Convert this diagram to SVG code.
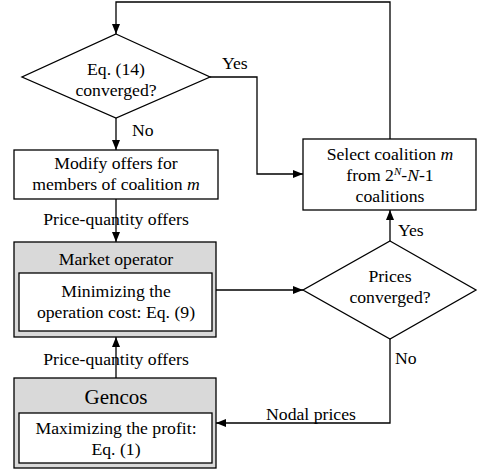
<svg xmlns="http://www.w3.org/2000/svg" width="479" height="471" viewBox="0 0 479 471">
<defs>
<marker id="ah" markerWidth="10" markerHeight="8" refX="10" refY="4" orient="auto" markerUnits="userSpaceOnUse">
<path d="M0,0 L10,4 L0,8 Z" fill="#000"/>
</marker>
<style>
text{font-family:"Liberation Serif","DejaVu Serif",serif;font-size:17.7px;fill:#000;text-anchor:middle}
.ln{fill:none;stroke:#000;stroke-width:1.3}
.box{fill:#fff;stroke:#000;stroke-width:1.3}
.gray{fill:#d9d9d9;stroke:#000;stroke-width:1.3}
.big{font-size:21px}
.lbl{text-anchor:start}
</style>
</defs>
<rect width="479" height="471" fill="#fff"/>
<g id="connectors">
<path class="ln" d="M390,139 V2 H116 V34" marker-end="url(#ah)"/>
<path class="ln" d="M210,77 H257 V174 H303" marker-end="url(#ah)"/>
<path class="ln" d="M116,118 V150" marker-end="url(#ah)"/>
<path class="ln" d="M116,199 V242" marker-end="url(#ah)"/>
<path class="ln" d="M216,290 H303" marker-end="url(#ah)"/>
<path class="ln" d="M390,241 V210" marker-end="url(#ah)"/>
<path class="ln" d="M390,339 V423 H216" marker-end="url(#ah)"/>
<path class="ln" d="M116,378 V337" marker-end="url(#ah)"/>
<text class="lbl" x="222" y="69">Yes</text>
<text class="lbl" x="132" y="136">No</text>
<text x="116" y="225">Price-quantity offers</text>
<text class="lbl" x="398" y="236">Yes</text>
<text class="lbl" x="395" y="364">No</text>
<text x="311" y="420">Nodal prices</text>
<text x="116" y="365">Price-quantity offers</text>
</g>
<g id="eq14">
<polygon class="box" points="116,34 210,77 116,118 22,77"/>
<text x="116" y="75">Eq. (14)</text>
<text x="116" y="96">converged?</text>
</g>
<g id="modify">
<rect class="box" x="14" y="150" width="204" height="49"/>
<text x="116" y="169">Modify offers for</text>
<text x="116" y="190">members of coalition <tspan font-style="italic">m</tspan></text>
</g>
<g id="select">
<rect class="box" x="303" y="139" width="173" height="71"/>
<text x="390" y="160">Select coalition <tspan font-style="italic">m</tspan></text>
<text x="390" y="181">from 2<tspan font-size="11" dy="-6" font-style="italic">N</tspan><tspan dy="6">-</tspan><tspan font-style="italic">N</tspan>-1</text>
<text x="390" y="202">coalitions</text>
</g>
<g id="market">
<rect class="gray" x="14" y="242" width="202" height="95"/>
<text x="116" y="265">Market operator</text>
<rect class="box" x="19" y="273" width="193" height="58"/>
<text x="116" y="297">Minimizing the</text>
<text x="116" y="318">operation cost: Eq. (9)</text>
</g>
<g id="prices">
<polygon class="box" points="390,241 476,290 390,339 303,290"/>
<text x="390" y="282">Prices</text>
<text x="390" y="303">converged?</text>
</g>
<g id="gencos">
<rect class="gray" x="14" y="378" width="202" height="90"/>
<text class="big" x="116" y="404">Gencos</text>
<rect class="box" x="19" y="413" width="193" height="50"/>
<text x="116" y="434">Maximizing the profit:</text>
<text x="116" y="455">Eq. (1)</text>
</g>
</svg>
